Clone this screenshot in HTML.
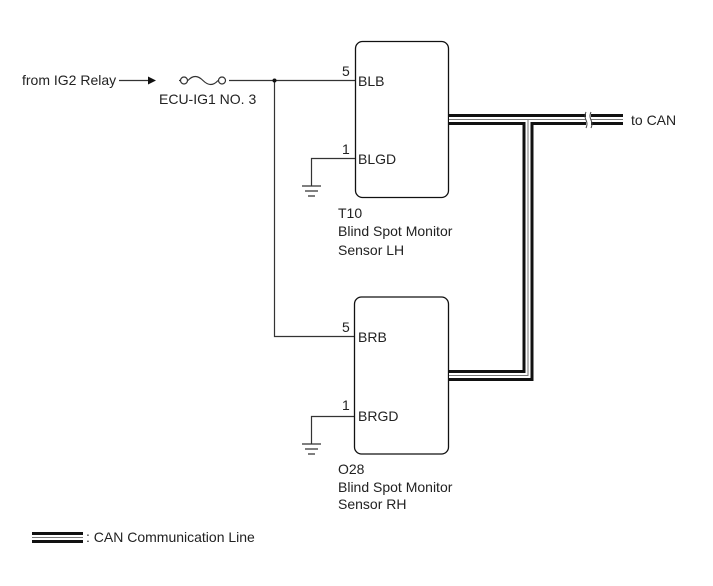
<!DOCTYPE html>
<html><head><style>
body{margin:0;background:#fff}
svg text{font-family:"Liberation Sans",Arial,sans-serif;font-size:14px;fill:#222}
</style></head><body>
<svg width="713" height="581" viewBox="0 0 713 581" xmlns="http://www.w3.org/2000/svg">
<g fill="none" stroke="#333" stroke-width="1.2">
<path d="M119,80.5H148"/>
<path d="M229,80.5H355"/>
<path d="M188,80.5H179M218,80.5H226"/>
<path d="M188,80.5 q7,-8 15,0 q8,8 15,0"/>
<path d="M274.5,80.5V336.5H355"/>
<path d="M355,158.5H311.5V186"/>
<path d="M302,186H321M305,191H318M308,196H315"/>
<path d="M355,416.5H311.5V444"/>
<path d="M302,444H321M305,449H318M308,454H315"/>
</g>
<circle cx="184" cy="80.5" r="3.5" fill="#fff" stroke="#333" stroke-width="1.2"/>
<circle cx="222" cy="80.5" r="3.5" fill="#fff" stroke="#333" stroke-width="1.2"/>
<path d="M148,76.5L156,80.5L148,84.5Z" fill="#111"/>
<circle cx="274.5" cy="80.5" r="2" fill="#111"/>
<rect x="355.5" y="41.5" width="93" height="156" rx="7" fill="#fff" stroke="#111" stroke-width="1.3"/>
<rect x="354.5" y="297" width="94" height="157" rx="7" fill="#fff" stroke="#111" stroke-width="1.3"/>
<g fill="none" stroke-linejoin="miter">
<path d="M449,119.5H623M449,375.5H528V119.5" stroke="#111" stroke-width="11"/>
<path d="M449,119.5H623M449,375.5H528V119.5" stroke="#fff" stroke-width="5"/>
<path d="M449,119.5H623M449,375.5H528V119.5" stroke="#777" stroke-width="1"/>
<path d="M32,537.5H83" stroke="#111" stroke-width="11"/>
<path d="M32,537.5H83" stroke="#fff" stroke-width="5"/>
<path d="M32,537.5H83" stroke="#777" stroke-width="1"/>
</g>
<rect x="586" y="112" width="5" height="16" fill="#fff"/>
<path d="M586,112q-2,4 0,8q2,4 0,8M591,112q-2,4 0,8q2,4 0,8" fill="none" stroke="#444" stroke-width="1"/>
<text x="22" y="85">from IG2 Relay</text>
<text x="159" y="104">ECU-IG1 NO. 3</text>
<text x="342" y="76">5</text>
<text x="358" y="86">BLB</text>
<text x="342" y="154">1</text>
<text x="358" y="164">BLGD</text>
<text x="338" y="218">T10</text>
<text x="338" y="236">Blind Spot Monitor</text>
<text x="338" y="255">Sensor LH</text>
<text x="342" y="332">5</text>
<text x="358" y="342">BRB</text>
<text x="342" y="410">1</text>
<text x="358" y="421">BRGD</text>
<text x="338" y="474">O28</text>
<text x="338" y="492">Blind Spot Monitor</text>
<text x="338" y="509">Sensor RH</text>
<text x="631" y="125">to CAN</text>
<text x="86" y="542">: CAN Communication Line</text>
</svg>
</body></html>
